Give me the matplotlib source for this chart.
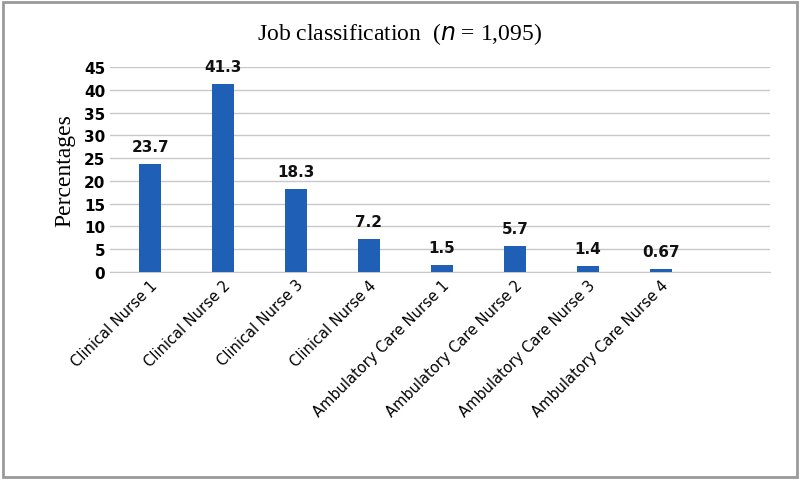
import matplotlib
matplotlib.use("Agg")
import matplotlib.pyplot as plt
from matplotlib.patches import Rectangle

categories = ["Clinical Nurse 1", "Clinical Nurse 2", "Clinical Nurse 3", "Clinical Nurse 4",
              "Ambulatory Care Nurse 1", "Ambulatory Care Nurse 2", "Ambulatory Care Nurse 3",
              "Ambulatory Care Nurse 4"]
values = [23.7, 41.3, 18.3, 7.2, 1.5, 5.7, 1.4, 0.67]
labels = ["23.7", "41.3", "18.3", "7.2", "1.5", "5.7", "1.4", "0.67"]
yticks = [0, 5, 10, 15, 20, 25, 30, 35, 40, 45]

fig = plt.figure(figsize=(8, 4.81), dpi=100)
fig.patches.append(Rectangle((0.004, 0.006), 0.992, 0.988, transform=fig.transFigure,
                             fill=False, edgecolor="#9a9a9a", linewidth=2))
ax = fig.add_axes([0.1375, 0.4324, 0.825, 0.4262])
x = list(range(len(categories)))
ax.bar(x, values, width=0.3, color="#1f5fb5", zorder=3)
for xi, v, l in zip(x, values, labels):
    ax.text(xi, v + 2.2, l, ha="center", va="bottom", fontsize=11, fontweight="bold", color="#111")
ax.set_xlim(-0.55, 8.5)
ax.set_ylim(0, 45)
ax.set_yticks(yticks)
ax.set_yticklabels([str(t) for t in yticks], fontsize=11, fontweight="bold")
ax.yaxis.grid(True, color="#c8c8c8", linewidth=1, zorder=0)
ax.tick_params(axis="both", length=0)
for s in ["top", "right", "left"]:
    ax.spines[s].set_visible(False)
ax.spines["bottom"].set_color("#c8c8c8")
ax.set_xticks(x)
ax.set_xticklabels(categories, rotation=45, ha="right", rotation_mode="anchor", fontsize=10.5)
ax.set_ylabel("Percentages", family="Liberation Serif", fontsize=17, labelpad=6)
fig.text(0.5, 0.93, "Job classification  (", ha="right", va="center",
         family="Liberation Serif", fontsize=17, fontweight="bold", x=0.0) if False else None
fig.text(0.5, 0.93, "Job classification  ($\\mathit{n}$ = 1,095)", ha="center", va="center",
         family="Liberation Serif", fontsize=17)
fig.savefig("out.png")
